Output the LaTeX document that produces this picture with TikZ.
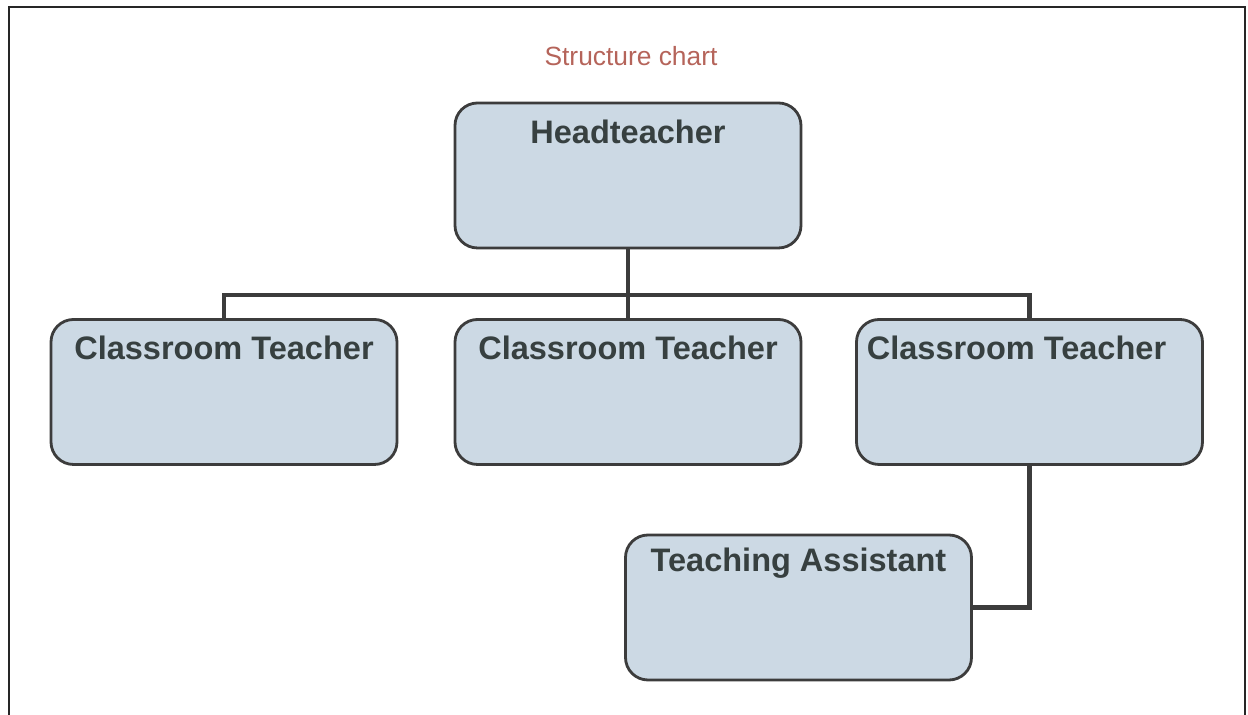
\documentclass[tikz,border=0pt]{standalone}
\usepackage{fontspec}
\setmainfont{Liberation Sans}
\usepackage{xcolor}
\definecolor{boxfill}{RGB}{204,217,228}
\definecolor{boxtext}{RGB}{55,64,64}
\definecolor{titlered}{RGB}{181,100,90}
\definecolor{linegray}{RGB}{60,60,60}

\begin{document}
\begin{tikzpicture}[
  post/.style={draw=linegray, line width=1.6pt, fill=boxfill, rounded corners=0.45cm,
    minimum width=6.92cm, minimum height=2.9cm, inner sep=0pt},
  posttext/.style={anchor=center, yshift=-0.6cm, text=boxtext, font=\fontsize{18.5}{20}\selectfont\bfseries},
  conn/.style={draw=linegray, line width=2.8pt}]
\useasboundingbox (0,0) rectangle (24.96,14.3);
\draw[line width=1.5pt, black!85] (0.18,0) -- (0.18,14.16) -- (24.9,14.16) -- (24.9,0);
\node[text=titlered, font=\fontsize{15}{17}\selectfont] (title) at (12.62,13.18) {Structure chart};
\node[post, label={[posttext]north:Headteacher}] (head) at (12.56,10.79) {};
\foreach \n/\x/\s in {1/4.48/0, 2/12.56/0, 3/20.59/-0.26}{
  \node[post, label={[posttext, xshift=\s cm]north:Classroom Teacher}] (ct\n) at (\x,6.46) {};
}
\node[post, label={[posttext]north:Teaching Assistant}] (ta) at (15.97,2.15) {};
\coordinate (bar) at (12.56,8.4);
\draw[conn] (head.south) -- (ct2.north);
\draw[conn] (ct1.north) -- (ct1.north |- bar) -- (ct3.north |- bar) -- (ct3.north);
\draw[conn] (ct3.south) |- (ta.east);
\end{tikzpicture}
\end{document}
